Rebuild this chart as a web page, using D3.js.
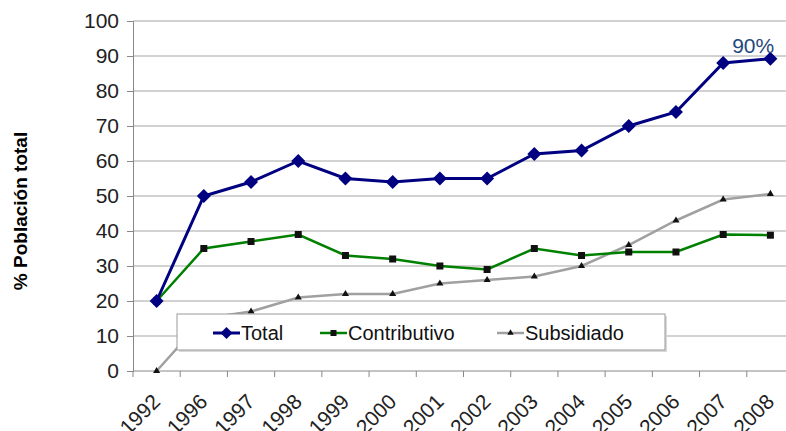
<!DOCTYPE html>
<html>
<head>
<meta charset="utf-8">
<script src="https://cdn.jsdelivr.net/npm/d3@7"></script>
<style>
  body { margin: 0; background: #fff; }
  svg { display: block; font-family: Arial, "Liberation Sans", sans-serif; }
</style>
</head>
<body>
<svg></svg>
<script>
/* data */
var years = ['1992', '1996', '1997', '1998', '1999', '2000', '2001', '2002',
             '2003', '2004', '2005', '2006', '2007', '2008'];
var total = [20, 50, 54, 60, 55, 54, 55, 55, 62, 63, 70, 74, 88, 89.2];
var contributivo = [20, 35, 37, 39, 33, 32, 30, 29, 35, 33, 34, 34, 39, 38.8];
var subsidiado = [0, 15, 17, 21, 22, 22, 25, 26, 27, 30, 36, 43, 49, 50.6];
var yTicks = [0, 10, 20, 30, 40, 50, 60, 70, 80, 90, 100];
var seriesNames = ['Total', 'Contributivo', 'Subsidiado'];

svgWidth = 786;
svgHeight = 431;
var margin = {top: 21, right: -8, bottom: 60, left: 133};
var width = svgWidth - margin.left - margin.right;
var height = svgHeight - margin.top - margin.bottom;
var scale = {};

var svg = d3.select('svg')
    .attr('width', svgWidth)
    .attr('height', svgHeight);

var g = svg.append('g')
    .attr('transform', translate(margin.left, margin.top));

setScale();
drawGrid();
drawAxis();
drawSeries();
drawLegend();
drawLabels();

function setScale(){
  scale.x = d3.scaleBand()
      .domain(years)
      .range([0, width]);
  scale.y = d3.scaleLinear()
      .domain([0, 100])
      .range([height, 0]);
}

function drawGrid(){
  g.append('g')
      .selectAll('line')
      .data(yTicks.filter(function(d){ return d > 0; }))
      .enter()
      .append('line')
      .attr('x1', 0)
      .attr('x2', width)
      .attr('y1', function(d){ return scale.y(d); })
      .attr('y2', function(d){ return scale.y(d); })
      .attr('stroke', '#a6a6a6')
      .attr('stroke-width', 1.2);
}

function drawAxis(){
  var yAxis = g.append('g')
      .call(d3.axisLeft(scale.y).tickValues(yTicks).tickSize(6).tickPadding(8));
  yAxis.selectAll('line, path').attr('stroke', '#888');
  yAxis.selectAll('text')
      .attr('fill', '#222')
      .style('font-size', '21px');

  // x axis: ticks sit on the band edges
  var xAxis = g.append('g')
      .attr('transform', translate(0, height));
  xAxis.append('line')
      .attr('x1', 0).attr('x2', width)
      .attr('stroke', '#888');
  xAxis.selectAll('.tk')
      .data(years)
      .enter()
      .append('line')
      .attr('class', 'tk')
      .attr('x1', function(d){ return scale.x(d); })
      .attr('x2', function(d){ return scale.x(d); })
      .attr('y1', 0).attr('y2', 6)
      .attr('stroke', '#888');
  xAxis.selectAll('text')
      .data(years)
      .enter()
      .append('text')
      .attr('transform', function(d){
        return translate(scale.x(d) + scale.x.bandwidth()/2 + 5, 32) + ' rotate(-45)';
      })
      .attr('text-anchor', 'end')
      .attr('fill', '#222')
      .style('font-size', '21px')
      .text(function(d){ return d; });
}

function cx(d, i){ return scale.x(years[i]) + scale.x.bandwidth()/2; }

function drawSeries(){
  var line = d3.line()
      .x(function(d, i){ return cx(d, i); })
      .y(function(d){ return scale.y(d); });

  g.append('path').datum(subsidiado)
      .attr('d', line).attr('fill', 'none')
      .attr('stroke', '#a0a0a0').attr('stroke-width', 2.5);
  g.append('g').selectAll('path')
      .data(subsidiado).enter().append('path')
      .attr('d', d3.symbol(d3.symbolTriangle, 22))
      .attr('transform', function(d, i){ return translate(cx(d, i), scale.y(d)); })
      .attr('fill', '#111');

  g.append('path').datum(contributivo)
      .attr('d', line).attr('fill', 'none')
      .attr('stroke', '#008000').attr('stroke-width', 2.5);
  g.append('g').selectAll('rect')
      .data(contributivo).enter().append('rect')
      .attr('x', function(d, i){ return cx(d, i) - 3.5; })
      .attr('y', function(d){ return scale.y(d) - 3.5; })
      .attr('width', 7).attr('height', 7)
      .attr('fill', '#111');

  g.append('path').datum(total)
      .attr('d', line).attr('fill', 'none')
      .attr('stroke', '#000080').attr('stroke-width', 3);
  g.append('g').selectAll('path')
      .data(total).enter().append('path')
      .attr('d', 'M0,-7L7,0L0,7L-7,0Z')
      .attr('transform', function(d, i){ return translate(cx(d, i), scale.y(d)); })
      .attr('fill', '#000080');
}

function drawLegend(){
  var lg = svg.append('g').attr('transform', translate(177, 314));
  lg.append('rect')
      .attr('x', 2).attr('y', 2)
      .attr('width', 488).attr('height', 36)
      .attr('fill', '#d8d8d8');
  lg.append('rect')
      .attr('width', 488).attr('height', 36)
      .attr('fill', '#fff')
      .attr('stroke', '#999');

  var items = [
    {x: 36, color: '#000080', w: 3},
    {x: 143, color: '#008000', w: 2.5},
    {x: 320, color: '#a0a0a0', w: 2.5}
  ];
  items.forEach(function(it, i){
    var row = lg.append('g').attr('transform', translate(it.x, 19));
    row.append('line')
        .attr('x1', 0).attr('x2', 27)
        .attr('stroke', it.color).attr('stroke-width', it.w);
    if (i === 0) {
      row.append('path').attr('d', 'M13.5,-6L19.5,0L13.5,6L7.5,0Z').attr('fill', '#000080');
    } else if (i === 1) {
      row.append('rect').attr('x', 10.5).attr('y', -3).attr('width', 6).attr('height', 6).attr('fill', '#111');
    } else {
      row.append('path').attr('d', d3.symbol(d3.symbolTriangle, 18))
          .attr('transform', translate(13.5, 0)).attr('fill', '#111');
    }
    row.append('text')
        .attr('x', 28).attr('y', 7)
        .attr('fill', '#111')
        .style('font-size', '20px')
        .text(seriesNames[i]);
  });
}

function drawLabels(){
  svg.append('text')
      .attr('transform', translate(27, 211) + ' rotate(-90)')
      .attr('text-anchor', 'middle')
      .attr('fill', '#000')
      .style('font-size', '19px')
      .style('font-weight', 'bold')
      .text('% Población total');

  g.append('text')
      .attr('x', cx(total[12], 12) + 9)
      .attr('y', scale.y(total[13]) - 6)
      .attr('fill', '#1f497d')
      .style('font-size', '21px')
      .text('90%');
}

function translate(x, y) {
  return 'translate(' + x + ',' + y + ')';
}
</script>
</body>
</html>
